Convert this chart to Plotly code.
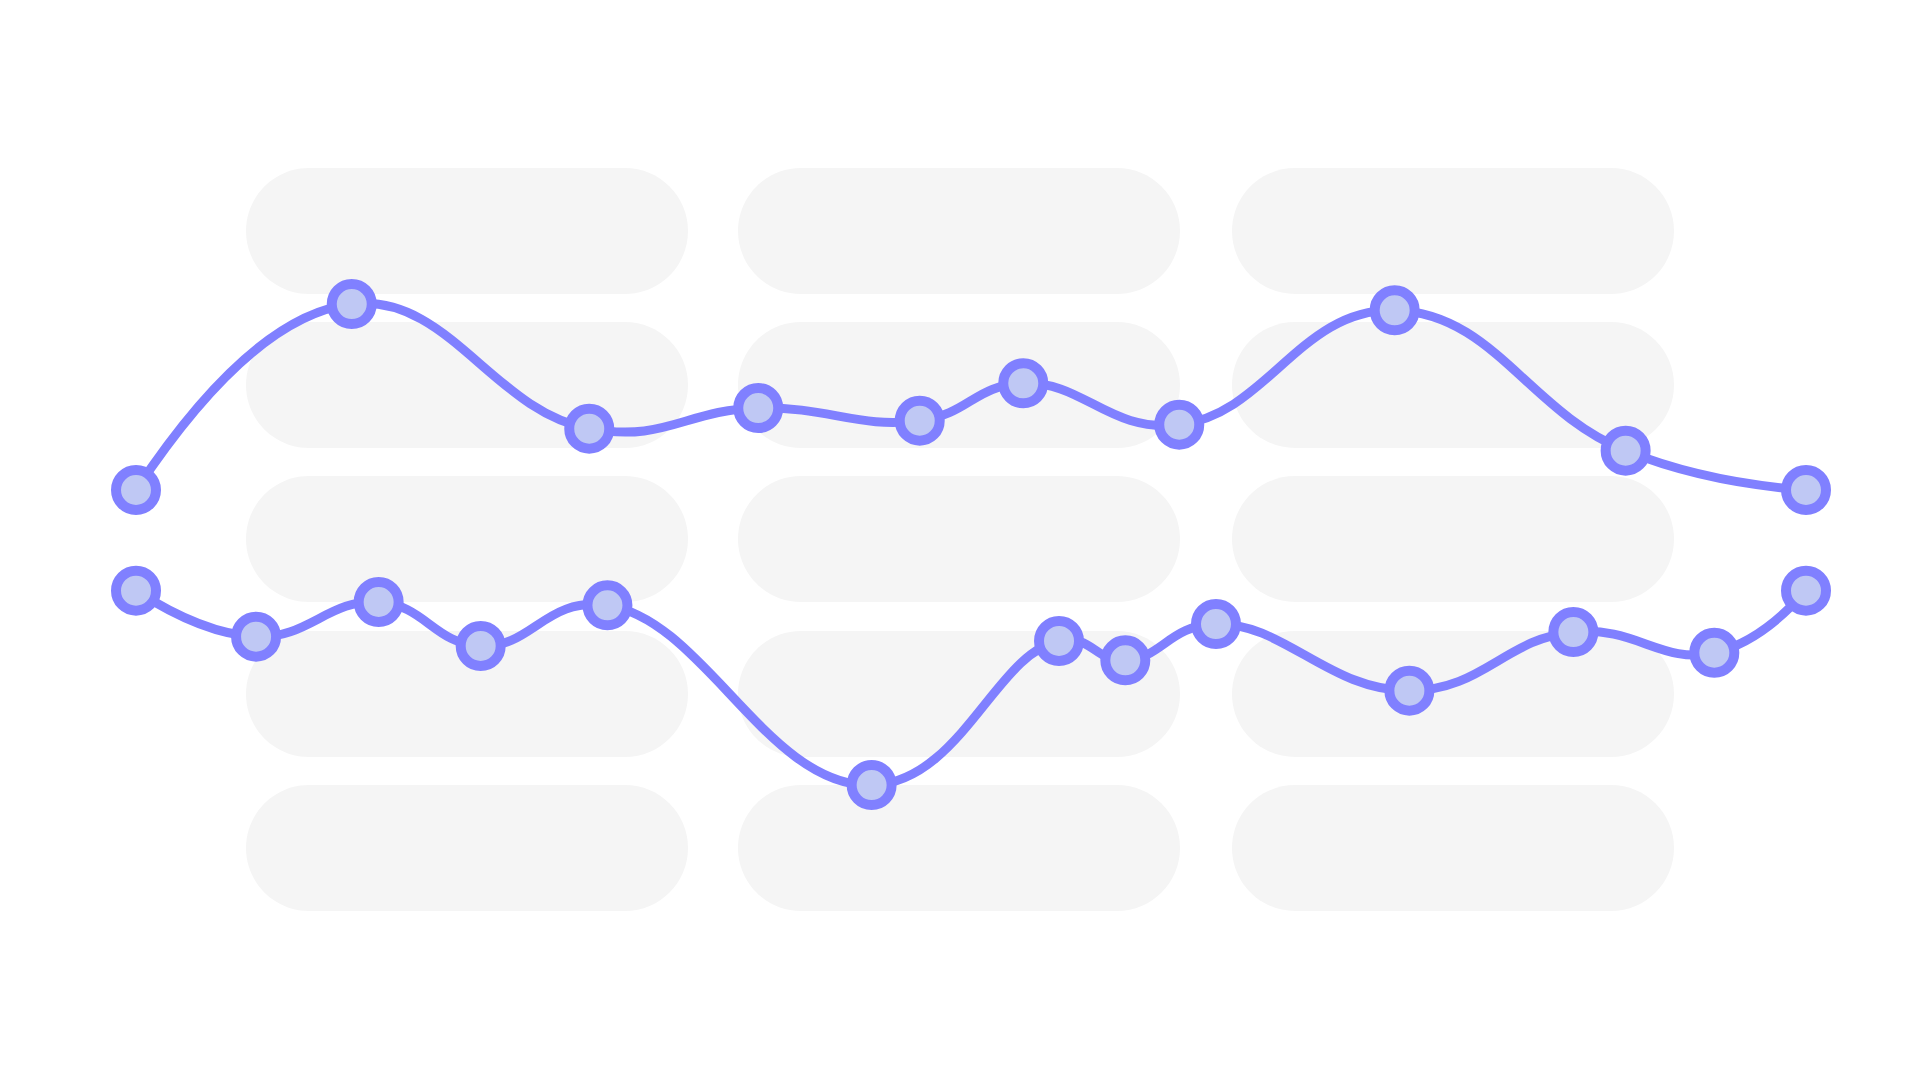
import plotly.graph_objects as go

# ---- data ----
upper_x = [0, 12.92, 27.14, 37.26, 46.93, 53.13, 62.47, 75.37, 89.20, 100]
upper_y = [54.63, 71.85, 60.31, 62.22, 61.05, 64.51, 60.68, 71.27, 58.27, 54.63]

lower_x = [0, 7.19, 14.53, 20.64, 28.23, 44.05, 55.27, 59.24, 64.67, 76.25, 86.07, 94.51, 100]
lower_y = [45.31, 41.05, 44.26, 40.19, 43.95, 27.31, 40.65, 38.86, 42.22, 36.05, 41.48, 39.56, 45.31]

# ---- style ----
W, H = 1920, 1080
LINE_COLOR = "#8080FF"
MARKER_FILL = "#BFC8F4"
PILL_COLOR = "#F5F5F5"

# background pill grid (pixel layout)
pill_cols = [246, 738, 1232]
pill_rows = [168, 322, 476, 631, 785]
pill_w, pill_h = 442, 126


def pill_path(x0, y0, w, h):
    r = h / 2.0
    k = 0.5523 * r
    x1, y1 = x0 + w, y0 + h
    yc = y0 + r
    pts = [
        ("M", [(x0 + r, y0)]),
        ("L", [(x1 - r, y0)]),
        ("C", [(x1 - r + k, y0), (x1, yc - k), (x1, yc)]),
        ("C", [(x1, yc + k), (x1 - r + k, y1), (x1 - r, y1)]),
        ("L", [(x0 + r, y1)]),
        ("C", [(x0 + r - k, y1), (x0, yc + k), (x0, yc)]),
        ("C", [(x0, yc - k), (x0 + r - k, y0), (x0 + r, y0)]),
    ]
    s = ""
    for cmd, ps in pts:
        s += cmd + " " + " ".join(f"{px / W:.6f},{1 - py / H:.6f}" for px, py in ps) + " "
    return s + "Z"


shapes = []
for cx in pill_cols:
    for ry in pill_rows:
        shapes.append(dict(
            type="path", xref="paper", yref="paper",
            path=pill_path(cx, ry, pill_w, pill_h),
            fillcolor=PILL_COLOR, line=dict(width=0), layer="below",
        ))

fig = go.Figure()
for xs, ys in [(upper_x, upper_y), (lower_x, lower_y)]:
    fig.add_trace(go.Scatter(
        x=xs, y=ys, mode="lines+markers",
        line=dict(color=LINE_COLOR, width=9, shape="spline", smoothing=1.3),
        marker=dict(size=40, color=MARKER_FILL, line=dict(color=LINE_COLOR, width=10)),
        hoverinfo="skip", showlegend=False,
    ))

px_per_x = 16.7
x_origin = 136
fig.update_layout(
    width=W, height=H,
    margin=dict(l=0, r=0, t=0, b=0),
    paper_bgcolor="white", plot_bgcolor="rgba(0,0,0,0)",
    shapes=shapes,
    xaxis=dict(range=[-x_origin / px_per_x, (W - x_origin) / px_per_x],
               visible=False, fixedrange=True),
    yaxis=dict(range=[0, 100], visible=False, fixedrange=True),
    showlegend=False,
)

fig.write_html(
    "out.html",
    config={"displayModeBar": False},
    post_script="document.body.style.margin='0';document.body.style.overflow='hidden';",
)
